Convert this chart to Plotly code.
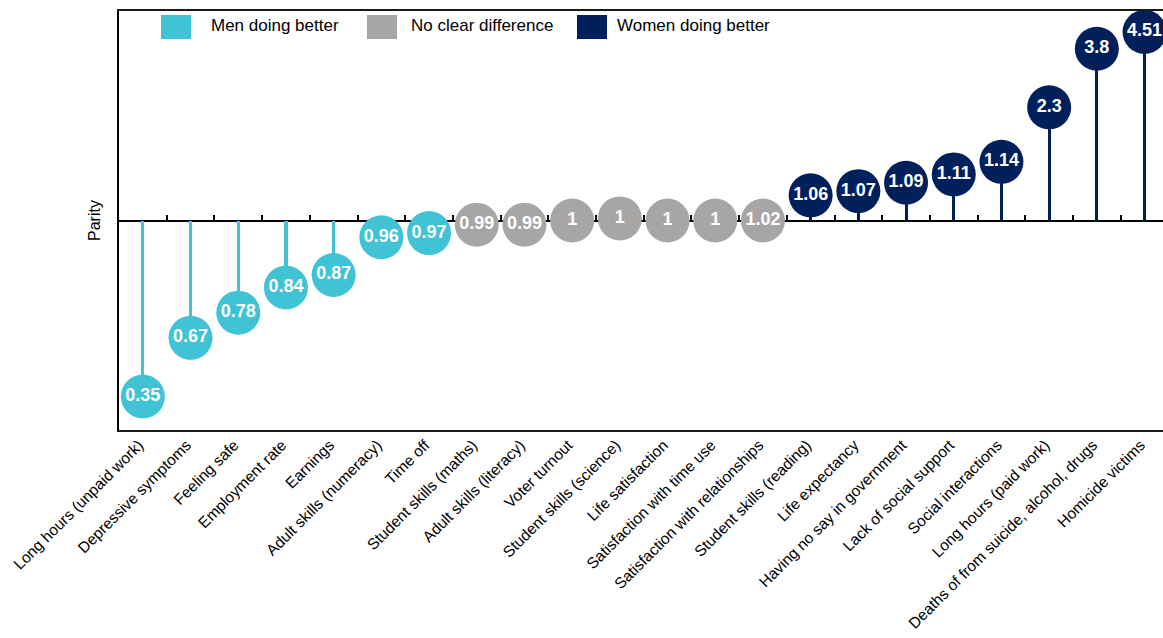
import plotly.graph_objects as go

categories = [
    "Long hours (unpaid work)", "Depressive symptoms", "Feeling safe", "Employment rate",
    "Earnings", "Adult skills (numeracy)", "Time off", "Student skills (maths)",
    "Adult skills (literacy)", "Voter turnout", "Student skills (science)", "Life satisfaction",
    "Satisfaction with time use", "Satisfaction with relationships", "Student skills (reading)",
    "Life expectancy", "Having no say in government", "Lack of social support",
    "Social interactions", "Long hours (paid work)", "Deaths of from suicide, alcohol, drugs",
    "Homicide victims",
]
ratio_labels = ["0.35", "0.67", "0.78", "0.84", "0.87", "0.96", "0.97", "0.99", "0.99", "1",
                "1", "1", "1", "1.02", "1.06", "1.07", "1.09", "1.11", "1.14", "2.3", "3.8", "4.51"]
# plotted height of each lollipop relative to parity (chart units, parity = 0)
stem_height = [-0.84, -0.56, -0.44, -0.32, -0.26, -0.08, -0.06, -0.02, -0.02, 0.0,
               0.01, 0.0, 0.0, 0.0, 0.12, 0.14, 0.18, 0.22, 0.28, 0.54, 0.82, 0.90]
group = ["men"] * 7 + ["none"] * 7 + ["women"] * 8

group_names = {"men": "Men doing better", "none": "No clear difference", "women": "Women doing better"}
group_colors = {"men": "#41C3D6", "none": "#A8A5A5", "women": "#00205C"}

x_idx = list(range(len(categories)))
colors = [group_colors[g] for g in group]

fig = go.Figure()
# stems
fig.add_trace(go.Bar(x=x_idx, y=stem_height, base=0, width=0.065,
                     marker=dict(color=colors, line=dict(width=0)),
                     showlegend=False, hoverinfo="skip"))
# circles with labels
fig.add_trace(go.Scatter(x=x_idx, y=stem_height, mode="markers+text", cliponaxis=False,
                         marker=dict(size=44, color=colors, line=dict(width=0)),
                         text=ratio_labels, textposition="middle center",
                         textfont=dict(family="Liberation Sans", size=18, color="white", weight="bold"),
                         showlegend=False, hoverinfo="skip"))
# helper invisible trace for the parity axis
fig.add_trace(go.Scatter(x=[0], y=[0], xaxis="x2", yaxis="y", mode="markers",
                         marker=dict(opacity=0), showlegend=False, hoverinfo="skip"))

# the page's body margin is removed by the post script below
OFF = 0
W, H = 1163, 638
L, R, T = 119, 0, 11
B = H - 430
cat_w = 47.7
plot_w = W - L - R
plot_h = H - T - B
x_max = -0.5 + plot_w / cat_w

fig.update_layout(
    width=W, height=H,
    margin=dict(l=L, r=R, t=T, b=B, autoexpand=False),
    paper_bgcolor="white", plot_bgcolor="white",
    font=dict(family="Liberation Sans, Arial, sans-serif", color="black"),
    bargap=0,
    xaxis=dict(range=[-0.5, x_max], tickvals=x_idx, ticktext=categories, tickangle=-45,
               tickfont=dict(size=15.5, color="black"), ticks="", showgrid=False, zeroline=False,
               showline=True, linecolor="#1a1a1a", linewidth=2, mirror=True, fixedrange=True,
               automargin=False, ticklabelshift=-4, ticklabelstandoff=-2),
    xaxis2=dict(overlaying="x", matches="x", anchor="free", position=0.5, side="top",
                tickvals=[i + 0.5 for i in x_idx], ticks="outside", ticklen=5, tickwidth=1.5,
                tickcolor="black", showticklabels=False, showgrid=False, zeroline=False,
                showline=True, linecolor="black", linewidth=2, layer="below traces",
                automargin=False),
    yaxis=dict(range=[-1, 1], showticklabels=False, ticks="", showgrid=False, zeroline=False,
               showline=True, linecolor="black", linewidth=2, automargin=False,
               title=dict(text="Parity", font=dict(size=16, color="black"), standoff=12)),
)

# legend drawn as key boxes + text (positions given in page pixels)
legend_items = [("men", 161, 209), ("none", 367, 409), ("women", 577, 615)]
def px_x(p):
    return (p - OFF - L) / plot_w
def px_y(p):
    return (H - B - (p - OFF)) / plot_h
for g, box_x, text_x in legend_items:
    fig.add_shape(type="rect", xref="paper", yref="paper",
                  x0=px_x(box_x), x1=px_x(box_x + 30),
                  y0=px_y(39), y1=px_y(15),
                  fillcolor=group_colors[g], line=dict(width=0))
    fig.add_annotation(xref="paper", yref="paper", x=px_x(text_x),
                       y=px_y(26), xanchor="left", yanchor="middle",
                       text=group_names[g], showarrow=False,
                       font=dict(size=17, color="black"))

fig.write_html("out.html", config={"displayModeBar": False},
               post_script="document.body.style.margin='0';document.body.style.overflow='hidden';")
